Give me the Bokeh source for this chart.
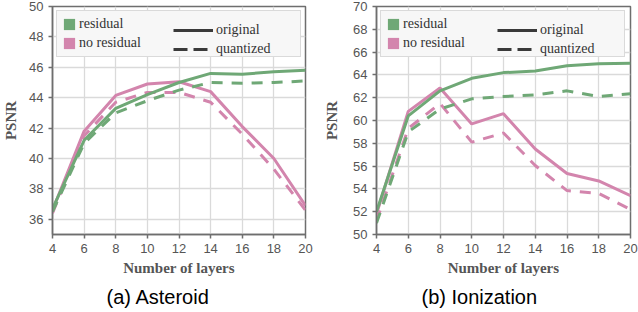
from bokeh.plotting import figure
from bokeh.layouts import row
from bokeh.models import Legend, LegendItem, Range1d, FixedTicker, Title
from bokeh.embed import file_html
from bokeh.resources import INLINE

layers = [4, 6, 8, 10, 12, 14, 16, 18, 20]

# (a) Asteroid
ast_res_orig = [36.7, 41.2, 43.3, 44.2, 45.0, 45.6, 45.55, 45.7, 45.8]
ast_res_quant = [36.5, 41.0, 43.0, 43.8, 44.5, 45.0, 44.95, 45.0, 45.1]
ast_nores_orig = [36.6, 41.8, 44.15, 44.9, 45.05, 44.4, 42.1, 40.0, 36.9]
ast_nores_quant = [36.4, 41.5, 43.7, 44.35, 44.35, 43.7, 41.6, 39.3, 36.6]

# (b) Ionization
ion_res_orig = [52.0, 60.4, 62.6, 63.7, 64.2, 64.35, 64.8, 64.97, 65.03]
ion_res_quant = [51.0, 59.0, 61.0, 61.9, 62.1, 62.25, 62.6, 62.1, 62.35]
ion_nores_orig = [51.8, 60.8, 62.85, 59.7, 60.6, 57.5, 55.35, 54.7, 53.4]
ion_nores_quant = [51.2, 59.3, 61.5, 58.1, 58.9, 56.05, 53.85, 53.6, 52.2]

x_ticks = [4, 6, 8, 10, 12, 14, 16, 18, 20]
ast_y_ticks = [36, 38, 40, 42, 44, 46, 48, 50]
ion_y_ticks = [50, 52, 54, 56, 58, 60, 62, 64, 66, 68, 70]

captions = ["(a) Asteroid", "(b) Ionization"]
legend_colors = ["residual", "no residual"]
legend_styles = ["original", "quantized"]

GREEN = "#6fa876"
PINK = "#d385ad"
SPINE = "#6e6e6e"
GRID = "#dadada"
TICKTXT = "#555555"


def make_panel(width, ymin, ymax, yticks, series, caption, fl, fr,
               ylab_standoff, cap_offset):
    p = figure(width=width, height=312, output_backend="svg", toolbar_location=None,
               x_range=Range1d(4, 20), y_range=Range1d(ymin, ymax),
               min_border_left=fl, min_border_right=fr, min_border_top=6,
               min_border_bottom=20)
    p.background_fill_color = "white"
    p.border_fill_color = "white"
    p.outline_line_color = SPINE
    p.outline_line_width = 1.5

    for ax in (p.xaxis[0], p.yaxis[0]):
        ax.axis_line_color = SPINE
        ax.axis_line_width = 1.5
        ax.major_tick_line_color = SPINE
        ax.major_tick_line_width = 1.5
        ax.major_tick_in = 0
        ax.major_tick_out = 4
        ax.minor_tick_line_color = None
        ax.major_label_text_font = "Liberation Sans"
        ax.major_label_text_font_size = "13px"
        ax.major_label_text_color = TICKTXT
        ax.major_label_standoff = 5
        ax.axis_label_text_font = "Liberation Serif"
        ax.axis_label_text_font_style = "bold"
        ax.axis_label_text_font_size = "15px"
        ax.axis_label_text_color = TICKTXT

    p.xaxis.ticker = FixedTicker(ticks=x_ticks)
    p.yaxis.ticker = FixedTicker(ticks=yticks)
    p.xaxis.axis_label = "Number of layers"
    p.yaxis.axis_label = "PSNR"
    p.xaxis.axis_label_standoff = 4
    p.yaxis.axis_label_standoff = ylab_standoff

    p.xgrid.ticker = FixedTicker(ticks=x_ticks)
    p.ygrid.ticker = FixedTicker(ticks=yticks)
    p.grid.grid_line_color = GRID
    p.grid.grid_line_width = 1.3

    res_o, res_q, nr_o, nr_q = series
    p.line(layers, nr_q, line_color=PINK, line_width=3, line_dash="11 9")
    p.line(layers, nr_o, line_color=PINK, line_width=3)
    p.line(layers, res_q, line_color=GREEN, line_width=3, line_dash="11 9")
    p.line(layers, res_o, line_color=GREEN, line_width=3)

    # legend proxies (drawn outside the visible range)
    off = [-100, -99]
    g_sq = p.quad(left=off[:1], right=off[1:], top=off[:1], bottom=off[1:],
                  fill_color=GREEN, line_color=None)
    p_sq = p.quad(left=off[:1], right=off[1:], top=off[:1], bottom=off[1:],
                  fill_color=PINK, line_color=None)
    l_solid = p.line(off, off, line_color="#3a3a3a", line_width=3)
    l_dash = p.line(off, off, line_color="#3a3a3a", line_width=3, line_dash="14 6")

    common = dict(label_text_font="Liberation Serif", label_text_font_size="14px",
                  label_text_color="#333333", label_height=16, glyph_height=14,
                  spacing=3, padding=5, margin=0, label_standoff=3)
    leg_a = Legend(items=[LegendItem(label=legend_colors[0], renderers=[g_sq]),
                          LegendItem(label=legend_colors[1], renderers=[p_sq])],
                   location=(4, 177), glyph_width=14, label_width=216,
                   border_line_color="#bdbdbd", border_line_width=1.2,
                   background_fill_color="#f7f7f7", background_fill_alpha=1.0,
                   **common)
    leg_b = Legend(items=[LegendItem(label=legend_styles[0], renderers=[l_solid]),
                          LegendItem(label=legend_styles[1], renderers=[l_dash])],
                   location=(121, 177), glyph_width=40,
                   border_line_color=None, background_fill_alpha=0.0,
                   **common)
    p.add_layout(leg_a, "center")
    p.add_layout(leg_b, "center")

    t = Title(text=caption, align="left", offset=cap_offset,
              text_font="Liberation Sans", text_font_size="20px",
              text_font_style="normal", text_color="black", standoff=10)
    p.add_layout(t, "below")
    return p


p1 = make_panel(318, 35, 50, ast_y_ticks,
                (ast_res_orig, ast_res_quant, ast_nores_orig, ast_nores_quant),
                captions[0], 51, 13, 7, 54)
p2 = make_panel(320, 50, 70, ion_y_ticks,
                (ion_res_orig, ion_res_quant, ion_nores_orig, ion_nores_quant),
                captions[1], 58, 8, 10, 45)

layout = row(p1, p2)
open("out.html", "w").write(file_html(layout, INLINE))
